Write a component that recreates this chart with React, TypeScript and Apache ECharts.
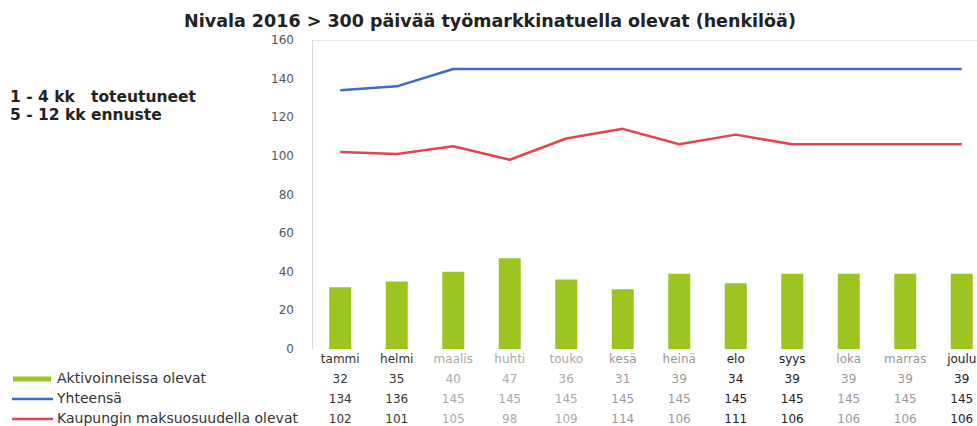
import React, { useEffect, useRef } from "react";
import * as echarts from "echarts";

const months = ["tammi", "helmi", "maalis", "huhti", "touko", "kesä", "heinä", "elo", "syys", "loka", "marras", "joulu"];
const aktivoinneissa = [32, 35, 40, 47, 36, 31, 39, 34, 39, 39, 39, 39];
const yhteensa = [134, 136, 145, 145, 145, 145, 145, 145, 145, 145, 145, 145];
const kaupungin = [102, 101, 105, 98, 109, 114, 106, 111, 106, 106, 106, 106];
const columnColors = ["#333", "#333", "#aaa", "#aaa", "#aaa", "#999", "#999", "#222", "#222", "#999", "#999", "#222"];
const seriesNames = ["Aktivoinneissa olevat", "Yhteensä", "Kaupungin maksuosuudella olevat"];

const GREEN = "#9cc521";
const BLUE = "#3a6cc8";
const RED = "#e2454f";
const FONT = "DejaVu Sans";

export default function App() {
  const ref = useRef<HTMLDivElement>(null);
  useEffect(() => {
    const chart = echarts.init(ref.current!, null, { renderer: "svg" });
    chart.setOption({
      animation: false,
      backgroundColor: "#fff",
      title: {
        text: "Nivala 2016 > 300 päivää työmarkkinatuella olevat (henkilöä)",
        left: 485,
        textAlign: "center",
        top: 7,
        textStyle: { fontFamily: FONT, fontWeight: "bold", fontSize: 17.5, color: "#222" },
      },
      grid: { left: 312, top: 40, width: 678, height: 309, containLabel: false, outerBoundsMode: "none" },
      xAxis: {
        type: "category",
        data: months,
        axisLine: { show: false },
        axisTick: { show: false },
        axisLabel: {
          margin: 0,
          interval: 0,
          fontFamily: FONT,
          fontSize: 12,
          lineHeight: 20,
          verticalAlign: "top",
          color: (_v: string, i: number) => columnColors[i],
          formatter: (v: string, i: number) =>
            `${v}\n${aktivoinneissa[i]}\n${yhteensa[i]}\n${kaupungin[i]}`,
        },
      },
      yAxis: {
        type: "value",
        min: 0,
        max: 160,
        interval: 20,
        axisLine: { show: true, lineStyle: { color: "#d8d8d8", width: 1 } },
        axisTick: { show: false },
        axisLabel: { margin: 18, fontFamily: FONT, fontSize: 12, color: "#555" },
        splitLine: {
          show: true,
          lineStyle: {
            color: ["transparent", "transparent", "transparent", "transparent", "transparent", "transparent", "transparent", "transparent", "#e4e4e4"],
          },
        },
      },
      series: [
        {
          name: seriesNames[0],
          type: "bar",
          data: aktivoinneissa,
          barWidth: 22,
          itemStyle: { color: GREEN },
        },
        {
          name: seriesNames[1],
          type: "line",
          data: yhteensa,
          symbol: "none",
          lineStyle: { color: BLUE, width: 2.5 },
        },
        {
          name: seriesNames[2],
          type: "line",
          data: kaupungin,
          symbol: "none",
          lineStyle: { color: RED, width: 2.5 },
        },
      ],
      graphic: [
        { type: "text", left: 10, top: 89, style: { text: "1 - 4 kk   toteutuneet", fontFamily: FONT, fontWeight: "bold", fontSize: 15.5, fill: "#222" } },
        { type: "text", left: 10, top: 107, style: { text: "5 - 12 kk ennuste", fontFamily: FONT, fontWeight: "bold", fontSize: 15.5, fill: "#222" } },
        { type: "rect", shape: { x: 13, y: 376.5, width: 38, height: 5 }, style: { fill: GREEN } },
        { type: "line", shape: { x1: 12, y1: 399, x2: 53, y2: 399 }, style: { stroke: BLUE, lineWidth: 2.5 } },
        { type: "line", shape: { x1: 12, y1: 419, x2: 53, y2: 419 }, style: { stroke: RED, lineWidth: 2.5 } },
        { type: "text", x: 57, y: 378, style: { text: seriesNames[0], fontFamily: FONT, fontSize: 14, fill: "#333", verticalAlign: "middle" } },
        { type: "text", x: 57, y: 398, style: { text: seriesNames[1], fontFamily: FONT, fontSize: 14, fill: "#333", verticalAlign: "middle" } },
        { type: "text", x: 57, y: 418, style: { text: seriesNames[2], fontFamily: FONT, fontSize: 14, fill: "#333", verticalAlign: "middle" } },
      ],
    });
    return () => chart.dispose();
  }, []);
  return <div ref={ref} style={{ position: "fixed", left: 0, top: 0, width: 1000, height: 426 }} />;
}
